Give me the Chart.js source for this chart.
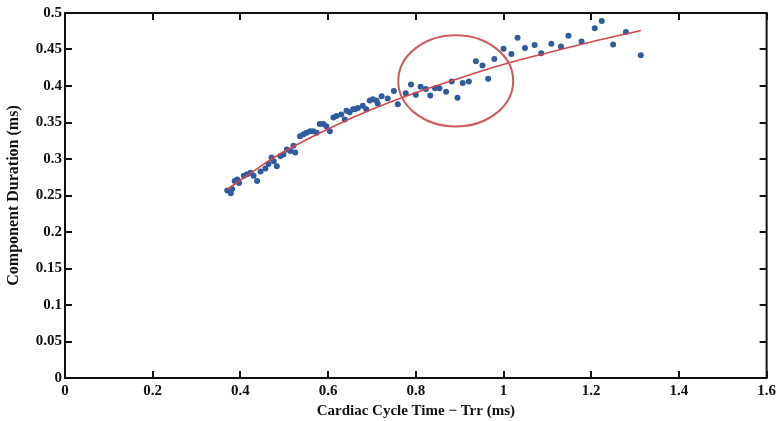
<!DOCTYPE html>
<html>
<head>
<meta charset="utf-8">
<script src="https://cdn.jsdelivr.net/npm/chart.js@4/dist/chart.umd.min.js"></script>
<style>
  html, body { margin: 0; padding: 0; background: #fff; }
  #wrap { width: 780px; height: 421px; }
</style>
</head>
<body>
<div id="wrap"><canvas id="durChart"></canvas></div>
<script>
// =====================================
// DATA
// =====================================

// Measured beats: cycle time (ms) and component duration (ms)
const cycleTime = [
    0.370, 0.378, 0.381, 0.387, 0.393, 0.397, 0.408, 0.415, 0.423, 0.430,
    0.438, 0.446, 0.457, 0.464, 0.471, 0.476, 0.483, 0.491, 0.498, 0.506,
    0.514, 0.521, 0.525, 0.536, 0.544, 0.551, 0.559, 0.566, 0.574, 0.581,
    0.589, 0.596, 0.604, 0.612, 0.619, 0.630, 0.638, 0.642, 0.649, 0.657,
    0.661, 0.668, 0.679, 0.687, 0.695, 0.702, 0.710,
    0.713, 0.722, 0.736, 0.750, 0.759, 0.777, 0.789, 0.800, 0.811, 0.823,
    0.833, 0.844, 0.854, 0.869, 0.882, 0.895, 0.907, 0.921, 0.937, 0.952,
    0.965, 0.979, 1.000, 1.018, 1.032, 1.049, 1.071, 1.086, 1.109, 1.131,
    1.148, 1.178, 1.208, 1.224, 1.250, 1.279, 1.313
];

const duration = [
    0.257, 0.253, 0.259, 0.270, 0.272, 0.267, 0.277, 0.279, 0.281, 0.277,
    0.270, 0.283, 0.287, 0.293, 0.302, 0.297, 0.290, 0.304, 0.306, 0.313,
    0.311, 0.318, 0.309, 0.331, 0.334, 0.336, 0.338, 0.338, 0.336, 0.348,
    0.348, 0.345, 0.338, 0.357, 0.359, 0.361, 0.354, 0.366, 0.364, 0.368,
    0.368, 0.370, 0.373, 0.368, 0.380, 0.382, 0.380,
    0.376, 0.386, 0.383, 0.393, 0.375, 0.390, 0.402, 0.388, 0.399, 0.396,
    0.387, 0.397, 0.397, 0.392, 0.406, 0.384, 0.404, 0.406, 0.434, 0.428,
    0.410, 0.437, 0.451, 0.444, 0.466, 0.452, 0.456, 0.445, 0.458, 0.454,
    0.469, 0.461, 0.479, 0.489, 0.457, 0.474, 0.442
];

// Fitted trend curve
const fitTime = [0.369, 0.446, 0.496, 0.596, 0.696, 0.796, 0.896, 0.997, 1.097, 1.197, 1.313];
const fitDuration = [0.258, 0.290, 0.309, 0.340, 0.367, 0.390, 0.410, 0.429, 0.445, 0.460, 0.476];

// Highlighted region (centre, radii in axis units)
const ringCentre = [0.891, 0.407];
const ringRadius = [0.131, 0.0625];

const xTicks = [0, 0.2, 0.4, 0.6, 0.8, 1, 1.2, 1.4, 1.6];
const yTicks = [0, 0.05, 0.1, 0.15, 0.2, 0.25, 0.3, 0.35, 0.4, 0.45, 0.5];

// =====================================
// PLUGINS
// =====================================

// Red ellipse around the scattered cluster
const ringPlugin = {
    id: "ring",
    afterDatasetsDraw(chart) {
        const { ctx, scales: { x, y } } = chart;
        const cx = x.getPixelForValue(ringCentre[0]);
        const cy = y.getPixelForValue(ringCentre[1]);
        const rx = x.getPixelForValue(ringCentre[0] + ringRadius[0]) - cx;
        const ry = cy - y.getPixelForValue(ringCentre[1] + ringRadius[1]);
        ctx.save();
        ctx.strokeStyle = "#cf5a5c";
        ctx.lineWidth = 2;
        ctx.beginPath();
        ctx.ellipse(cx, cy, rx, ry, 0, 0, Math.PI * 2);
        ctx.stroke();
        ctx.restore();
    }
};

// Boxed axes with inward tick marks on all four sides
const framePlugin = {
    id: "frame",
    afterDraw(chart) {
        const { ctx, chartArea: a, scales: { x, y } } = chart;
        const len = 7;
        ctx.save();
        ctx.strokeStyle = "#111";
        ctx.lineWidth = 2;
        ctx.strokeRect(a.left, a.top, a.right - a.left, a.bottom - a.top);
        ctx.beginPath();
        xTicks.forEach(v => {
            const px = Math.round(x.getPixelForValue(v));
            ctx.moveTo(px, a.bottom);
            ctx.lineTo(px, a.bottom - len);
            ctx.moveTo(px, a.top);
            ctx.lineTo(px, a.top + len);
        });
        yTicks.forEach(v => {
            const py = Math.round(y.getPixelForValue(v));
            ctx.moveTo(a.left, py);
            ctx.lineTo(a.left + len, py);
            ctx.moveTo(a.right, py);
            ctx.lineTo(a.right - len, py);
        });
        ctx.stroke();
        ctx.restore();
    }
};

// =====================================
// CHART
// =====================================

const serif = "'Liberation Serif', 'Times New Roman', serif";
const tickFont = { family: serif, size: 15, weight: "bold" };
const fmt = v => String(Number(v.toFixed(2)));

new Chart(document.getElementById("durChart").getContext("2d"), {
    type: "scatter",
    data: {
        datasets: [
            {
                type: "line",
                label: "Fit",
                data: fitTime.map((t, i) => ({ x: t, y: fitDuration[i] })),
                borderColor: "#d0474d",
                borderWidth: 1.6,
                pointRadius: 0,
                tension: 0.4,
                fill: false,
                order: 0
            },
            {
                label: "Duration",
                data: cycleTime.map((t, i) => ({ x: t, y: duration[i] })),
                backgroundColor: "#2f5c9c",
                borderColor: "#2f5c9c",
                borderWidth: 0,
                pointRadius: 3,
                order: 1
            }
        ]
    },
    options: {
        responsive: true,
        maintainAspectRatio: false,
        animation: false,
        layout: { padding: { top: 13, right: 9, left: 0, bottom: 0 } },
        plugins: {
            legend: { display: false },
            tooltip: { enabled: false }
        },
        scales: {
            x: {
                type: "linear",
                min: 0,
                max: 1.6,
                afterFit(s) { s.height = 43; },
                afterBuildTicks(s) { s.ticks = xTicks.map(v => ({ value: v })); },
                grid: { display: false, drawTicks: false },
                border: { display: false },
                ticks: { color: "#111", font: tickFont, padding: 4, maxRotation: 0, callback: fmt },
                title: { display: true, text: "Cardiac Cycle Time − Trr (ms)", color: "#111", font: { family: serif, size: 15, weight: "bold" }, padding: { top: 0, bottom: 1 } }
            },
            y: {
                type: "linear",
                min: 0,
                max: 0.5,
                afterFit(s) { s.width = 65; },
                afterBuildTicks(s) { s.ticks = yTicks.map(v => ({ value: v })); },
                grid: { display: false, drawTicks: false },
                border: { display: false },
                ticks: { color: "#111", font: tickFont, padding: 3, callback: fmt },
                title: { display: true, text: "Component Duration (ms)", color: "#111", font: { family: serif, size: 16, weight: "bold" }, padding: { top: 4, bottom: 0 } }
            }
        }
    },
    plugins: [ringPlugin, framePlugin]
});
</script>
</body>
</html>
